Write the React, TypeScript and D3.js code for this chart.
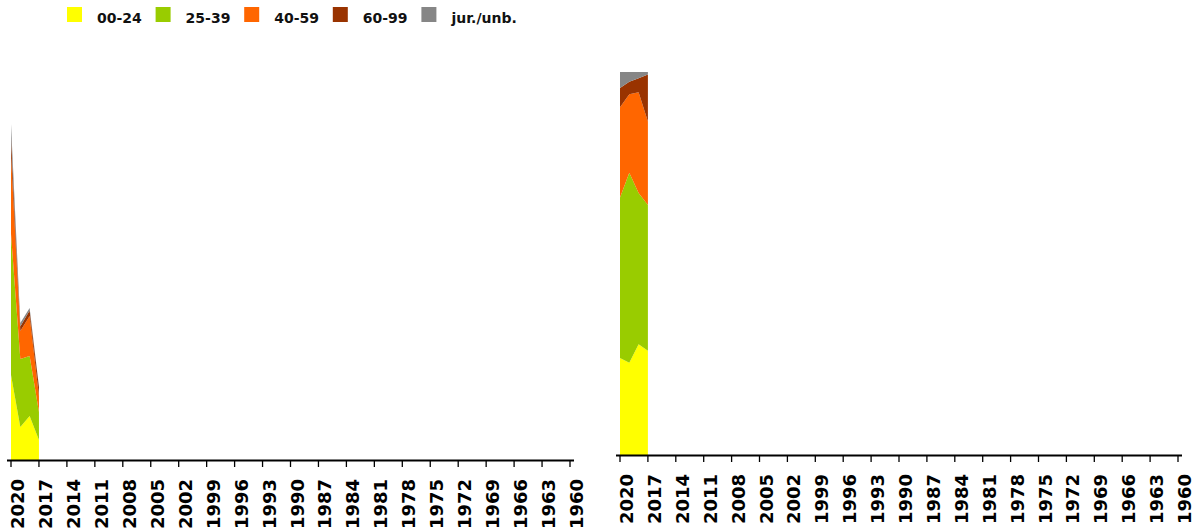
import React from "react";
import * as d3 from "d3";

const years = [2020, 2019, 2018, 2017];
const groups = ["00-24", "25-39", "40-59", "60-99", "jur./unb."];
const age00_24 = [170, 66, 88, 40];
const age25_39 = [282, 136, 120, 56];
const age40_59 = [158, 56, 80, 32];
const age60_99 = [34, 9, 11, 18];
const jurUnb = [28, 7, 5, 1];
const tickYears = d3.range(2020, 1959, -3);
const colors = ["#ffff00", "#99cc00", "#ff6600", "#993300", "#868686"];

const W = 1204;
const H = 532;
const FONT = "'DejaVu Sans', Verdana, sans-serif";

type Row = { year: number; [k: string]: number };

const rows: Row[] = years.map((y, i) => ({
  year: y,
  "00-24": age00_24[i],
  "25-39": age25_39[i],
  "40-59": age40_59[i],
  "60-99": age60_99[i],
  "jur./unb.": jurUnb[i],
}));

const stackAbs = d3.stack<Row>().keys(groups)(rows);
const stackPct = d3.stack<Row>().keys(groups).offset(d3.stackOffsetExpand)(rows);

function Panel({ x0, x1, yBase, yTop, series, domainMax }: any) {
  const x = d3.scaleLinear().domain([2020, 1960]).range([x0, x1]);
  const y = d3.scaleLinear().domain([0, domainMax]).range([yBase, yTop]);
  const area = d3
    .area<any>()
    .x((d) => x(d.data.year))
    .y0((d) => y(d[0]))
    .y1((d) => y(d[1]))
    .curve(d3.curveLinear);
  return (
    <g>
      {series.map((s: any, i: number) => (
        <path key={i} d={area(s) || ""} fill={colors[i]} stroke="none" />
      ))}
      <line x1={x0 - 4} x2={x1 + 4} y1={yBase + 0.5} y2={yBase + 0.5} stroke="#000" strokeWidth={2} />
      {tickYears.map((t) => (
        <g key={t}>
          <line x1={x(t)} x2={x(t)} y1={yBase} y2={yBase + 7} stroke="#000" strokeWidth={1.3} />
          <text
            transform={`translate(${x(t) + 13},${yBase + 19}) rotate(-90)`}
            textAnchor="end"
            fontFamily={FONT}
            fontWeight="bold"
            fontSize={18}
            fill="#000"
          >
            {t}
          </text>
        </g>
      ))}
    </g>
  );
}

export default function App() {
  const totals = rows.map((r) => groups.reduce((a, k) => a + r[k], 0));
  const maxTotal = d3.max(totals) as number;
  return (
    <>
      <style>{`body{margin:0}svg{display:block}`}</style>
      <svg width={W} height={H} style={{ background: "#fff", fontFamily: FONT }}>
        <Panel x0={11} x1={570} yBase={460} yTop={124} series={stackAbs} domainMax={maxTotal} />
        <Panel x0={620} x1={1178} yBase={455} yTop={72} series={stackPct} domainMax={1} />
        {groups.map((g, i) => (
          <g key={g} transform={`translate(${67 + i * 88.6},7)`}>
            <rect x={0} y={0} width={15} height={15} fill={colors[i]} />
            <text x={30} y={16} fontFamily={FONT} fontWeight="bold" fontSize={14} fill="#111">
              {g}
            </text>
          </g>
        ))}
      </svg>
    </>
  );
}
